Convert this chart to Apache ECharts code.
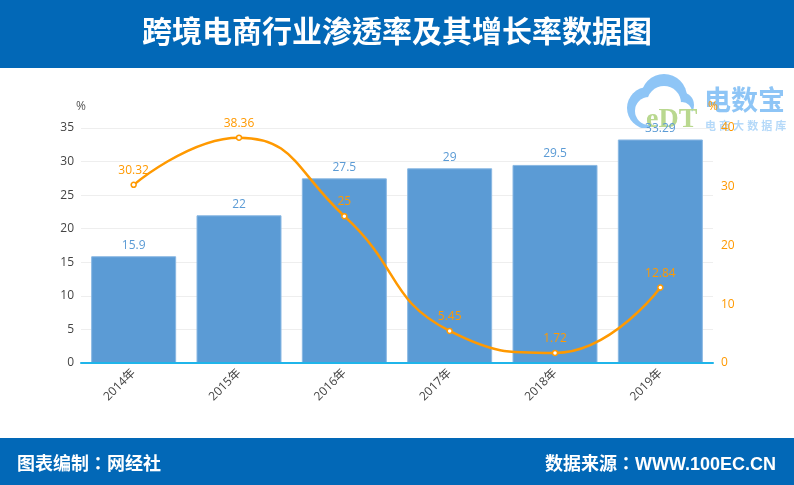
<!DOCTYPE html>
<html>
<head>
<meta charset="utf-8">
<style>
html,body{margin:0;padding:0;background:#fff;}
#chart{width:794px;height:485px;}
</style>
<script src="https://cdn.jsdelivr.net/npm/echarts@6/dist/echarts.min.js"></script>
</head>
<body>
<div id="chart"></div>
<script>
var titleText = '跨境电商行业渗透率及其增长率数据图';
var footLeft = '图表编制：网经社';
var footRight = '数据来源：WWW.100EC.CN';
var years = ['2014年', '2015年', '2016年', '2017年', '2018年', '2019年'];
var rate = [15.9, 22, 27.5, 29, 29.5, 33.29];
var growth = [30.32, 38.36, 25, 5.45, 1.72, 12.84];

var font = '"Open Sans","Noto Sans CJK SC",sans-serif';
var headFont = '"Liberation Sans","Noto Sans CJK TC",sans-serif';
var cloud = '#8ec5f6';
var chart = echarts.init(document.getElementById('chart'));
chart.setOption({
    animation: false,
    textStyle: {fontFamily: font},
    grid: {left: 81, right: 81, top: 128, bottom: 122},
    graphic: [
        // 顶部和底部色条
        {type: 'rect', z: 0, shape: {x: 0, y: 0, width: 794, height: 68}, style: {fill: '#0268b7'}},
        {type: 'rect', z: 0, shape: {x: 0, y: 438, width: 794, height: 47}, style: {fill: '#0268b7'}},
        {type: 'text', z: 1, left: 'center', top: 19, style: {text: titleText, fill: '#fff', font: 'bold 30px ' + headFont}},
        {type: 'text', z: 1, left: 17, top: 456, style: {text: footLeft, fill: '#fff', font: 'bold 18px ' + headFont}},
        {type: 'text', z: 1, right: 18, top: 456, style: {text: footRight, fill: '#fff', font: 'bold 18px ' + headFont}},
        // 水印
        {type: 'group', z: 0, children: [
            {type: 'circle', shape: {cx: 648, cy: 108, r: 21}, style: {fill: cloud}},
            {type: 'circle', shape: {cx: 664, cy: 97, r: 23}, style: {fill: cloud}},
            {type: 'circle', shape: {cx: 681, cy: 105, r: 13}, style: {fill: cloud}},
            {type: 'circle', shape: {cx: 649, cy: 111, r: 14}, style: {fill: '#fff'}},
            {type: 'circle', shape: {cx: 664, cy: 103, r: 17}, style: {fill: '#fff'}},
            {type: 'circle', shape: {cx: 682, cy: 112, r: 10}, style: {fill: '#fff'}},
            {type: 'rect', shape: {x: 650, y: 112, width: 50, height: 20}, style: {fill: '#fff'}},
            {type: 'text', style: {x: 646, y: 106, text: 'eDT', fill: '#b9d88f', font: 'bold 28px "Liberation Serif",serif'}},
            {type: 'text', style: {x: 704, y: 89, text: '电数宝', fill: cloud, font: 'bold 27px ' + headFont}},
            {type: 'text', style: {x: 705, y: 121, text: '电 商 大 数 据 库', fill: '#b5d9f9', font: 'bold 11px ' + headFont}}
        ]}
    ],
    xAxis: {
        type: 'category',
        data: years,
        z: 5,
        axisLine: {onZero: false, lineStyle: {color: '#1fb5ea', width: 2}},
        axisTick: {show: false},
        axisLabel: {rotate: 45, color: '#444', fontSize: 12, margin: 8}
    },
    yAxis: [{
        type: 'value',
        name: '%',
        nameGap: 15,
        nameTextStyle: {color: '#555', fontSize: 12},
        min: 0,
        max: 35,
        interval: 5,
        axisLine: {show: false},
        axisTick: {show: false},
        axisLabel: {color: '#444', fontSize: 12, margin: 7},
        splitLine: {lineStyle: {color: '#eeeeee'}}
    }, {
        type: 'value',
        name: '%',
        nameGap: 15,
        nameTextStyle: {color: '#ff9900', fontSize: 12},
        min: 0,
        max: 40,
        interval: 10,
        axisLine: {show: false},
        axisTick: {show: false},
        axisLabel: {color: '#ff9900', fontSize: 12, margin: 8},
        splitLine: {show: false}
    }],
    series: [{
        type: 'bar',
        data: rate,
        barWidth: 85,
        z: 2,
        itemStyle: {color: '#5b9bd5', borderColor: '#8ab8e3', borderWidth: 1},
        label: {show: true, position: 'top', color: '#5b9bd5', fontSize: 12, distance: 5}
    }, {
        type: 'line',
        data: growth,
        yAxisIndex: 1,
        smooth: true,
        z: 3,
        symbol: 'circle',
        symbolSize: 5,
        showAllSymbol: true,
        lineStyle: {color: '#ff9900', width: 2.5},
        itemStyle: {color: '#fff', borderColor: '#ff9900', borderWidth: 1.5},
        label: {show: true, position: 'top', color: '#ff9900', fontSize: 12, distance: 5}
    }]
});
</script>
</body>
</html>
